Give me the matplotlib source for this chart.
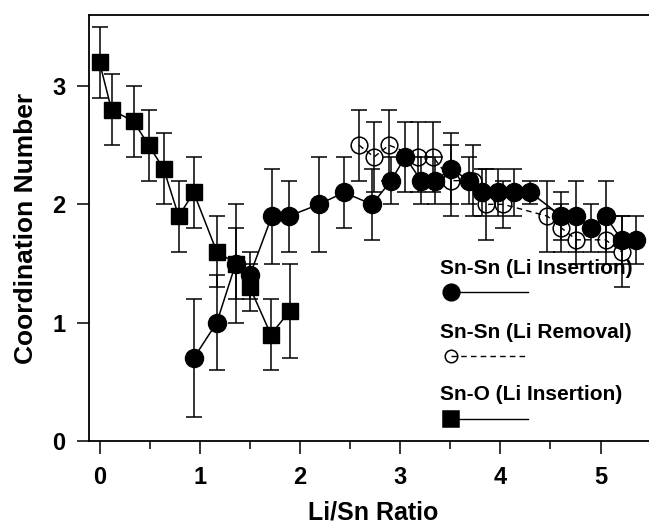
import numpy as np
import matplotlib.pyplot as plt
from matplotlib.ticker import MultipleLocator

plt.rcParams['font.family'] = ['Liberation Sans', 'DejaVu Sans']
plt.rcParams['font.weight'] = 'bold'

# Sn-O, Li insertion (filled squares)
sno_x = [0.0, 0.12, 0.34, 0.49, 0.64, 0.79, 0.94, 1.17, 1.36, 1.50, 1.71, 1.90]
sno_y = [3.2, 2.8, 2.7, 2.5, 2.3, 1.9, 2.1, 1.6, 1.5, 1.3, 0.9, 1.1]
sno_err = [0.3, 0.3, 0.3, 0.3, 0.3, 0.3, 0.3, 0.3, 0.3, 0.2, 0.3, 0.4]

# Sn-Sn, Li insertion (filled circles)
ins_x = [0.94, 1.17, 1.36, 1.50, 1.72, 1.89, 2.19, 2.44, 2.72, 2.91, 3.05, 3.21,
         3.35, 3.51, 3.69, 3.82, 3.98, 4.14, 4.30, 4.61, 4.76, 4.91, 5.05, 5.21, 5.35]
ins_y = [0.7, 1.0, 1.5, 1.4, 1.9, 1.9, 2.0, 2.1, 2.0, 2.2, 2.4, 2.2,
         2.2, 2.3, 2.2, 2.1, 2.1, 2.1, 2.1, 1.9, 1.9, 1.8, 1.9, 1.7, 1.7]
ins_err = [0.5, 0.4, 0.5, 0.2, 0.4, 0.3, 0.4, 0.3, 0.3, 0.2, 0.3, 0.2,
           0.2, 0.3, 0.2, 0.2, 0.2, 0.2, 0.1, 0.2, 0.3, 0.2, 0.3, 0.2, 0.2]

# Sn-Sn, Li removal (open circles)
rem_x = [2.59, 2.74, 2.89, 3.18, 3.33, 3.51, 3.73, 3.86, 4.03, 4.47, 4.61, 4.76, 5.05, 5.21]
rem_y = [2.5, 2.4, 2.5, 2.4, 2.4, 2.2, 2.2, 2.0, 2.0, 1.9, 1.8, 1.7, 1.7, 1.6]
rem_err = [0.3, 0.3, 0.3, 0.3, 0.3, 0.3, 0.3, 0.3, 0.2, 0.3, 0.2, 0.2, 0.2, 0.3]

legend_labels = ['Sn-Sn (Li Insertion)', 'Sn-Sn (Li Removal)', 'Sn-O (Li Insertion)']

fig = plt.figure(figsize=(6.49, 5.27), dpi=100)
ax = fig.add_axes([89 / 649, 86 / 527, 560 / 649, 426 / 527])

eb = dict(ecolor='black', elinewidth=1.1, capsize=5.5, capthick=1.1)
ax.errorbar(rem_x, rem_y, yerr=rem_err, fmt='o', color='black', mfc='none',
            mec='black', mew=1.1, ms=12, ls='--', lw=1.0, dashes=(4, 3), **eb)
ax.errorbar(sno_x, sno_y, yerr=sno_err, fmt='s', color='black', ms=11.5,
            ls='-', lw=1.1, **eb)
ax.errorbar(ins_x, ins_y, yerr=ins_err, fmt='o', color='black', ms=13,
            ls='-', lw=1.1, **eb)

# hand-drawn legend: label text, then marker with a short line
leg_styles = [dict(marker='o', ms=12, mfc='black', ls='-'),
              dict(marker='o', ms=9, mfc='none', ls='--', dashes=(4, 3)),
              dict(marker='s', ms=11, mfc='black', ls='-')]
text_y = [1.46, 0.92, 0.39]
for lab, ty, st in zip(legend_labels, text_y, leg_styles):
    ax.text(3.40, ty, lab, fontsize=15, fontweight='bold', va='center', ha='left')
    ax.plot([3.51, 4.28], [ty - 0.205, ty - 0.205], color='black', lw=1.0,
            mec='black', mew=1.1, markevery=[0], **st)

ax.set_xlim(-0.105, 5.484)
ax.set_ylim(0, 3.6)
ax.xaxis.set_major_locator(MultipleLocator(1))
ax.xaxis.set_minor_locator(MultipleLocator(0.5))
ax.yaxis.set_major_locator(MultipleLocator(1))
ax.tick_params(axis='both', which='major', direction='out', length=9, width=1.1,
               labelsize=17)
ax.tick_params(axis='x', which='major', pad=9)
ax.tick_params(axis='y', which='major', pad=8)
ax.tick_params(axis='x', which='minor', direction='out', length=6, width=1.1)
for t in ax.get_xticklabels() + ax.get_yticklabels():
    t.set_fontweight('bold')
ax.spines['right'].set_visible(False)
for s in ['left', 'top', 'bottom']:
    ax.spines[s].set_linewidth(1.3)

# x label sits right at the bottom edge
fig.text(373 / 649, 2 / 527, 'Li/Sn Ratio', fontsize=18, fontweight='bold',
         ha='center', va='bottom')
ax.set_ylabel('Coordination Number', fontsize=19, fontweight='bold', labelpad=10)

fig.savefig('out.png', dpi=100)
